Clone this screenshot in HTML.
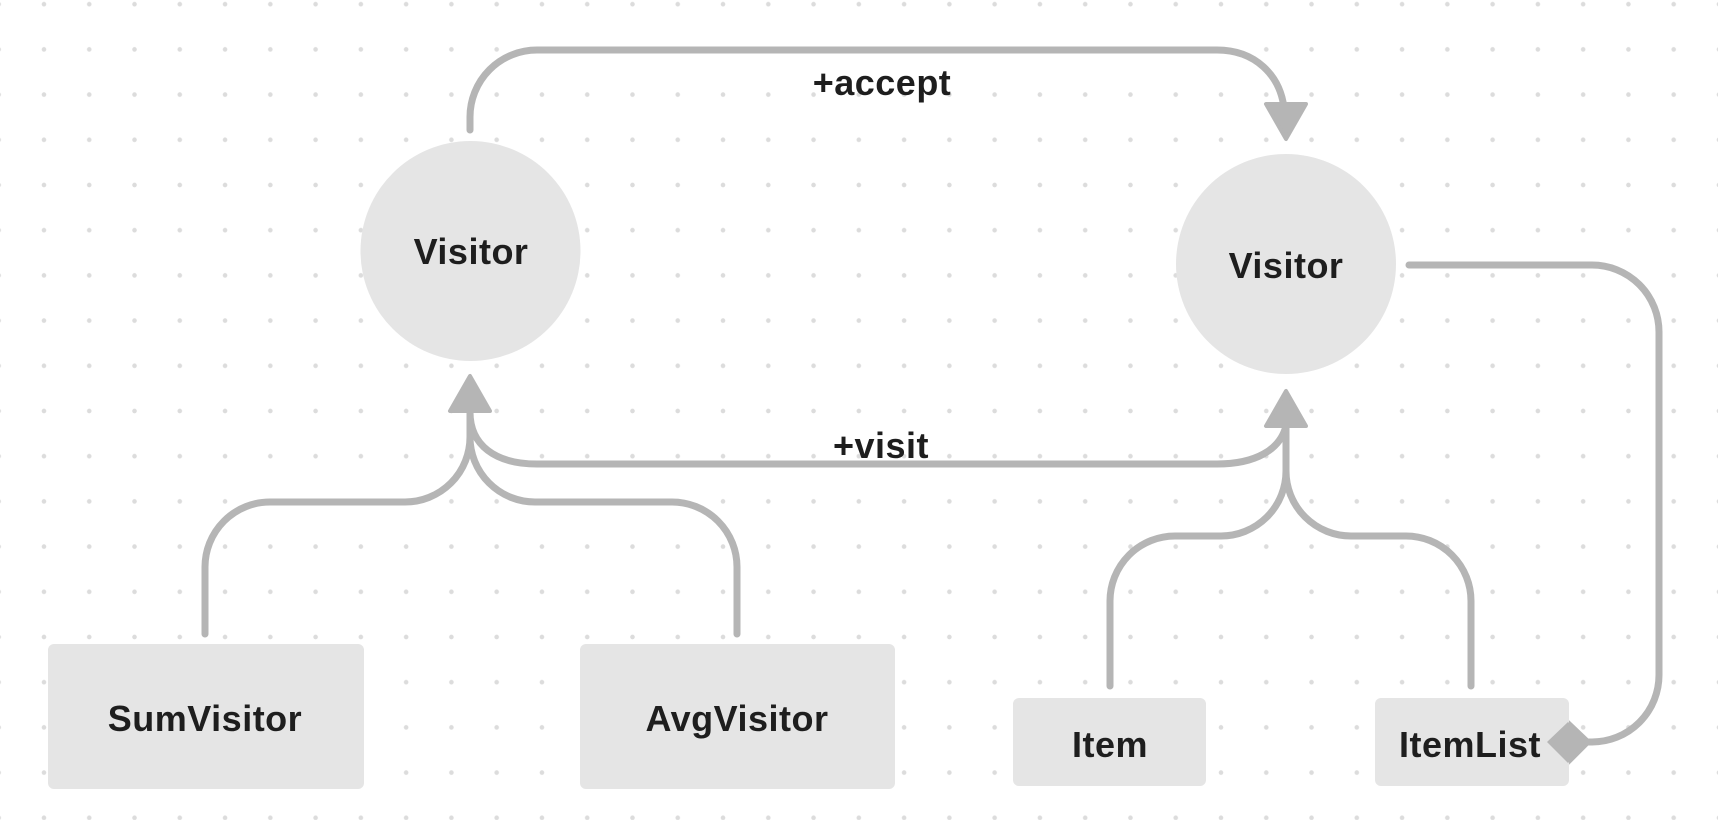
<!DOCTYPE html>
<html><head><meta charset="utf-8"><style>
html,body{margin:0;padding:0;background:#fff;}
svg{display:block;}
text{font-family:"Liberation Sans",sans-serif;font-weight:bold;fill:#1e1e1e;}
</style></head><body>
<svg width="1718" height="820" viewBox="0 0 1718 820" xmlns="http://www.w3.org/2000/svg">
<defs>
<pattern id="dots" x="-1.3" y="4.2" width="45.27" height="45.2" patternUnits="userSpaceOnUse">
<circle cx="0" cy="0" r="2.3" fill="#dcdcdc"/><circle cx="45.27" cy="0" r="2.3" fill="#dcdcdc"/>
<circle cx="0" cy="45.2" r="2.3" fill="#dcdcdc"/><circle cx="45.27" cy="45.2" r="2.3" fill="#dcdcdc"/>
</pattern>
</defs>
<rect x="0" y="-41" width="1718" height="900" fill="url(#dots)"/>

<g fill="none" stroke="#b5b5b5" stroke-width="7" stroke-linecap="round">
<!-- accept -->
<path d="M470,130 L470,117 A67,67 0 0 1 537,50 L1217,50 C1255,50 1280,75 1284,108"/>
<!-- visit -->
<path d="M470,412 C470,445 495,464 537,464 L1217,464 C1255,464 1280,450 1286,426"/>
<!-- left inheritance -->
<path d="M470,412 L470,437 A65,65 0 0 1 405,502 L270,502 A65,65 0 0 0 205,567 L205,634"/>
<path d="M470,437 A65,65 0 0 0 535,502 L672,502 A65,65 0 0 1 737,567 L737,634"/>
<!-- right inheritance -->
<path d="M1286,426 L1286,471 A65,65 0 0 1 1221,536 L1175,536 A65,65 0 0 0 1110,601 L1110,686"/>
<path d="M1286,471 A65,65 0 0 0 1351,536 L1406,536 A65,65 0 0 1 1471,601 L1471,686"/>
<!-- composition -->
<path d="M1409,265 L1592,265 A67,67 0 0 1 1659,332 L1659,675 A67,67 0 0 1 1592,742 L1580,742"/>
</g>
<g fill="#b5b5b5" stroke="#b5b5b5" stroke-width="4" stroke-linejoin="round">
<polygon points="1266,104 1306,104 1286,139"/>
<polygon points="450,411 490,411 470,376"/>
<polygon points="1266,426 1306,426 1286,391"/>
<polygon points="1568,722 1589,742 1568,763 1547,742"/>
</g>

<circle cx="470.5" cy="251" r="110" fill="#e5e5e5"/>
<circle cx="1286" cy="264" r="110" fill="#e5e5e5"/>
<rect x="48" y="644" width="316" height="145" rx="6" fill="#e5e5e5"/>
<rect x="580" y="644" width="315" height="145" rx="6" fill="#e5e5e5"/>
<rect x="1013" y="698" width="193" height="88" rx="6" fill="#e5e5e5"/>
<rect x="1375" y="698" width="194" height="88" rx="6" fill="#e5e5e5"/>
<polygon points="1568,722 1589,742 1568,763 1547,742" fill="#b5b5b5"/>

<g font-size="36" text-anchor="middle">
<text x="471" y="264" letter-spacing="0.5">Visitor</text>
<text x="1286" y="278" letter-spacing="0.5">Visitor</text>
<text x="205" y="731" letter-spacing="0.5">SumVisitor</text>
<text x="737" y="731" letter-spacing="0.5">AvgVisitor</text>
<text x="1110" y="757" letter-spacing="0.5">Item</text>
<text x="1470" y="757" letter-spacing="0.5">ItemList</text>
<text x="882" y="95" letter-spacing="0.5">+accept</text>
<text x="881" y="458" letter-spacing="0.5">+visit</text>
</g>
</svg>
</body></html>
